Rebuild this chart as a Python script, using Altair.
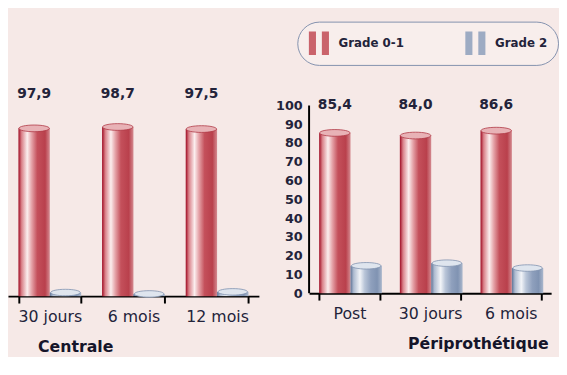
import altair as alt
import pandas as pd

# ---- data ----
grades = ["Grade 0-1", "Grade 2"]

centrale_cats = ["30 jours", "6 mois", "12 mois"]
centrale_g01 = [97.9, 98.7, 97.5]
centrale_g2 = [2.1, 1.3, 2.5]
centrale_labels = ["97,9", "98,7", "97,5"]

peri_cats = ["Post", "30 jours", "6 mois"]
peri_g01 = [85.4, 84.0, 86.6]
peri_g2 = [14.6, 16.0, 13.4]
peri_labels = ["85,4", "84,0", "86,6"]

y_ticks = [0, 10, 20, 30, 40, 50, 60, 70, 80, 90, 100]

# ---- style ----
FONT = "DejaVu Sans"
BG = "#f6e9e7"
RED = "#c24a55"
BLUE = "#8d9fbc"
TXT = "#23233a"

ELLIPSE = "M-1,0A1,0.22,0,1,1,1,0A1,0.22,0,1,1,-1,0Z"
STRIPES = "M-0.85,-1H-0.25V1H-0.85Z M0.25,-1H0.85V1H0.25Z"


def grad(stops):
    return alt.LinearGradient(
        gradient="linear", x1=0, x2=1, y1=0, y2=0,
        stops=[alt.GradientStop(color=c, offset=o) for o, c in stops],
    )


red_fill = grad([(0, "#9e0a22"), (0.1, "#d98088"), (0.28, "#fbeeee"),
                 (0.42, "#e5a3a8"), (0.6, "#c4505b"), (0.85, "#b9404c"),
                 (1, "#d48a90")])
blue_fill = grad([(0, "#5f7396"), (0.1, "#aebbd0"), (0.3, "#f2f4f8"),
                  (0.45, "#b9c5d8"), (0.65, "#8fa0bd"), (0.85, "#8093b2"),
                  (1, "#aab7cc")])

legend = alt.Legend(
    title=None, orient="none", legendX=294, legendY=-70, direction="horizontal",
    symbolType=STRIPES, symbolSize=576, symbolStrokeWidth=0, symbolOpacity=0.85,
    labelFont=FONT, labelFontSize=12, labelFontWeight="bold", labelColor=TXT,
    labelOffset=8, columnPadding=60, padding=10,
    fillColor="#f8eeec", strokeColor="#8391ad", cornerRadius=22,
)


def make_df(cats, g01, g2):
    rows = []
    for c, a, b in zip(cats, g01, g2):
        rows.append({"cat": c, "grade": grades[0], "value": a})
        rows.append({"cat": c, "grade": grades[1], "value": b})
    return pd.DataFrame(rows)


def panel(cats, g01, g2, labels, title, ymax, height, width, show_y,
          label_y, title_x):
    df = make_df(cats, g01, g2)
    lab_df = pd.DataFrame({"cat": cats, "grade": [grades[0]] * len(cats),
                           "label": labels, "ly": [label_y] * len(cats)})
    x = alt.X(
        "cat:N", sort=cats,
        scale=alt.Scale(paddingInner=0.25, paddingOuter=0.125),
        axis=alt.Axis(
            title=title, labelAngle=0, tickBand="extent", tickSize=7,
            tickWidth=2, tickColor="black", domainColor="black", domainWidth=2,
            labelFont=FONT, labelFontSize=16, labelColor=TXT, labelPadding=6,
            titleFont=FONT, titleFontSize=16, titleFontWeight="bold",
            titleColor="#15152a", titleAlign="left", titleAnchor="start",
            titleX=title_x, titleY=51, titleBaseline="middle",
        ),
    )
    xo = alt.XOffset("grade:N", sort=grades, scale=alt.Scale(paddingInner=0))
    if show_y:
        yaxis = alt.Axis(
            title=None, values=y_ticks, grid=False, domain=False, ticks=False,
            labelOverlap=False, labelFont=FONT, labelFontSize=13,
            labelFontWeight="bold", labelColor=TXT, labelPadding=7,
        )
    else:
        yaxis = None
    yscale = alt.Scale(domain=[0, ymax], nice=False)
    y = alt.Y("value:Q", scale=yscale, axis=yaxis)

    base = alt.Chart(df)
    legend_layer = base.mark_bar(opacity=0).encode(
        x=x, xOffset=xo, y=y,
        color=alt.Color("grade:N", scale=alt.Scale(domain=grades, range=[RED, BLUE]),
                        legend=legend),
    )
    red = base.transform_filter(alt.datum.grade == grades[0])
    blue = base.transform_filter(alt.datum.grade == grades[1])
    red_bars = red.mark_bar(fill=red_fill).encode(x=x, xOffset=xo, y=y)
    blue_bars = blue.mark_bar(fill=blue_fill).encode(x=x, xOffset=xo, y=y)
    top_red = red.mark_point(
        shape=ELLIPSE, size=961, filled=True, fill="#e8b2b6", stroke="#b03a46",
        strokeWidth=0.8, opacity=1,
    ).encode(x=x, xOffset=xo, y=y)
    top_blue = blue.mark_point(
        shape=ELLIPSE, size=900, filled=True, fill="#dfe5ee", stroke="#7f91af",
        strokeWidth=0.8, opacity=1,
    ).encode(x=x, xOffset=xo, y=y)
    texts = alt.Chart(lab_df).mark_text(
        font=FONT, fontSize=14, fontWeight="bold", color=TXT, baseline="middle",
    ).encode(x=x, xOffset=xo, y=alt.Y("ly:Q", scale=yscale, axis=yaxis),
             text="label:N")

    layers = [legend_layer, red_bars, blue_bars, top_red, top_blue, texts]
    if show_y:
        rule = alt.Chart(pd.DataFrame({"a": [0]})).mark_rule(
            color="black", strokeWidth=2
        ).encode(x=alt.value(0), y=alt.YDatum(0, axis=yaxis, scale=yscale),
                 y2=alt.Y2Datum(100))
        layers.append(rule)
    return alt.layer(*layers).properties(width=width, height=height)


left = panel(centrale_cats, centrale_g01, centrale_g2, centrale_labels,
             "Centrale", 120, 209, 255, False, 118, 30)
right = panel(peri_cats, peri_g01, peri_g2, peri_labels,
              "Périprothétique", 108, 206, 246, True, 100, 100)

chart = alt.hconcat(left, right, spacing=16).properties(
    background=BG,
    padding={"top": 10, "left": 0, "right": 0, "bottom": 0},
).configure_view(stroke=None)

chart.save("out.html", embed_options={"renderer": "svg", "actions": False})
